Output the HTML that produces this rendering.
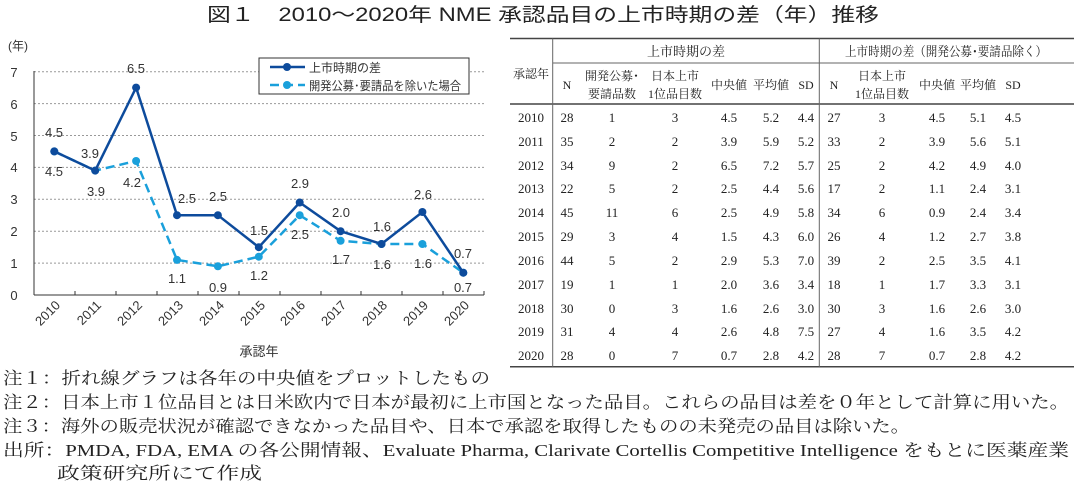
<!DOCTYPE html>
<html><head><meta charset="utf-8"><style>
html,body{margin:0;padding:0;background:#fff;}
svg{display:block;}
.s{font-family:"Liberation Sans","Noto Sans CJK JP",sans-serif;}
.m{font-family:"Liberation Serif","Noto Serif CJK SC",serif;}
</style></head><body>
<svg width="1074" height="492" viewBox="0 0 1074 492" xmlns="http://www.w3.org/2000/svg">
<text x="207" y="21" class="s" font-size="19" fill="#222" textLength="672" lengthAdjust="spacingAndGlyphs">図１　2010～2020年 NME 承認品目の上市時期の差（年）推移</text>

<g class="s" font-size="12" fill="#333">
<text x="8" y="50">(年)</text>
<g stroke="#999" stroke-dasharray="2,2" stroke-width="1">
<line x1="34" x2="484" y1="71.7" y2="71.7"/><line x1="34" x2="484" y1="103.6" y2="103.6"/>
<line x1="34" x2="484" y1="135.5" y2="135.5"/><line x1="34" x2="484" y1="167.4" y2="167.4"/>
<line x1="34" x2="484" y1="199.3" y2="199.3"/><line x1="34" x2="484" y1="231.2" y2="231.2"/>
<line x1="34" x2="484" y1="263.1" y2="263.1"/>
</g>
<line x1="34" y1="71" x2="34" y2="295" stroke="#333"/>
<line x1="34" y1="295" x2="484" y2="295" stroke="#333"/>
<g stroke="#333">
<line x1="75" x2="75" y1="291" y2="295"/><line x1="116" x2="116" y1="291" y2="295"/><line x1="157" x2="157" y1="291" y2="295"/><line x1="198" x2="198" y1="291" y2="295"/><line x1="239" x2="239" y1="291" y2="295"/><line x1="280" x2="280" y1="291" y2="295"/><line x1="321" x2="321" y1="291" y2="295"/><line x1="361" x2="361" y1="291" y2="295"/><line x1="402" x2="402" y1="291" y2="295"/><line x1="443" x2="443" y1="291" y2="295"/><line x1="484" x2="484" y1="291" y2="295"/>
</g>
<g text-anchor="middle" font-size="13">
<text x="14" y="300">0</text><text x="14" y="268">1</text><text x="14" y="236">2</text><text x="14" y="204">3</text><text x="14" y="172">4</text><text x="14" y="141">5</text><text x="14" y="109">6</text><text x="14" y="77">7</text>
</g>
<g font-size="13" text-anchor="end">
<text transform="translate(61,306) rotate(-45)">2010</text>
<text transform="translate(102,306) rotate(-45)">2011</text>
<text transform="translate(143,306) rotate(-45)">2012</text>
<text transform="translate(184,306) rotate(-45)">2013</text>
<text transform="translate(225,306) rotate(-45)">2014</text>
<text transform="translate(266,306) rotate(-45)">2015</text>
<text transform="translate(306,306) rotate(-45)">2016</text>
<text transform="translate(347,306) rotate(-45)">2017</text>
<text transform="translate(388,306) rotate(-45)">2018</text>
<text transform="translate(429,306) rotate(-45)">2019</text>
<text transform="translate(470,306) rotate(-45)">2020</text>
</g>
<text x="259" y="356" text-anchor="middle" font-size="13">承認年</text>

<polyline fill="none" stroke="#1aa0db" stroke-width="2.5" stroke-dasharray="9,5" points="54.3,151.4 95.2,170.6 136.1,161 177,259.9 217.9,266.3 258.8,256.7 299.7,215.2 340.6,240.8 381.5,244 422.4,244 463.3,272.7"/>
<g fill="#1aa0db"><circle cx="54.3" cy="151.4" r="4"/><circle cx="95.2" cy="170.6" r="4"/><circle cx="136.1" cy="161" r="4"/><circle cx="177" cy="259.9" r="4"/><circle cx="217.9" cy="266.3" r="4"/><circle cx="258.8" cy="256.7" r="4"/><circle cx="299.7" cy="215.2" r="4"/><circle cx="340.6" cy="240.8" r="4"/><circle cx="381.5" cy="244" r="4"/><circle cx="422.4" cy="244" r="4"/><circle cx="463.3" cy="272.7" r="4"/></g>
<polyline fill="none" stroke="#0d4b9c" stroke-width="2.5" points="54.3,151.4 95.2,170.6 136.1,87.6 177,215.2 217.9,215.2 258.8,247.2 299.7,202.5 340.6,231.2 381.5,244 422.4,212 463.3,272.7"/>
<g fill="#0d4b9c"><circle cx="54.3" cy="151.4" r="4"/><circle cx="95.2" cy="170.6" r="4"/><circle cx="136.1" cy="87.6" r="4"/><circle cx="177" cy="215.2" r="4"/><circle cx="217.9" cy="215.2" r="4"/><circle cx="258.8" cy="247.2" r="4"/><circle cx="299.7" cy="202.5" r="4"/><circle cx="340.6" cy="231.2" r="4"/><circle cx="381.5" cy="244" r="4"/><circle cx="422.4" cy="212" r="4"/><circle cx="463.3" cy="272.7" r="4"/></g>
<g text-anchor="middle" font-size="13" fill="#333">
<text x="54" y="137">4.5</text><text x="90" y="158">3.9</text><text x="136" y="73">6.5</text><text x="187" y="203">2.5</text><text x="218" y="201">2.5</text><text x="259" y="235">1.5</text><text x="300" y="188">2.9</text><text x="341" y="217">2.0</text><text x="382" y="231">1.6</text><text x="423" y="199">2.6</text><text x="463" y="258">0.7</text>
<text x="54" y="176">4.5</text><text x="96" y="196">3.9</text><text x="132" y="187">4.2</text><text x="177" y="283">1.1</text><text x="218" y="292">0.9</text><text x="259" y="280">1.2</text><text x="300" y="239">2.5</text><text x="341" y="264">1.7</text><text x="382" y="269">1.6</text><text x="423" y="268">1.6</text><text x="463" y="292">0.7</text>
</g>
<rect x="259" y="58" width="210" height="36" fill="#fff" stroke="#333"/>
<line x1="270" y1="67" x2="305" y2="67" stroke="#0d4b9c" stroke-width="2.5"/><circle cx="287" cy="67" r="4" fill="#0d4b9c"/>
<line x1="270" y1="85" x2="305" y2="85" stroke="#1aa0db" stroke-width="2.5" stroke-dasharray="9,5"/><circle cx="287" cy="85" r="4" fill="#1aa0db"/>
<text x="309" y="72" font-size="12">上市時期の差</text>
<text x="309" y="90" font-size="12" textLength="152" lengthAdjust="spacingAndGlyphs">開発公募･要請品を除いた場合</text>
</g>

<g class="m" font-size="13" fill="#222" text-anchor="middle">
<line x1="510" x2="1074" y1="38.5" y2="38.5" stroke="#444" stroke-width="1.5"/>
<line x1="552.7" x2="1074" y1="63" y2="63" stroke="#666"/>
<line x1="510" x2="1074" y1="104" y2="104" stroke="#444" stroke-width="1.5"/>
<line x1="510" x2="1074" y1="366.7" y2="366.7" stroke="#444" stroke-width="1.5"/>
<line x1="552.7" x2="552.7" y1="38.5" y2="366.7" stroke="#666"/>
<line x1="819.3" x2="819.3" y1="38.5" y2="366.7" stroke="#666"/>
<text x="686" y="56">上市時期の差</text>
<text x="946" y="56" textLength="202" lengthAdjust="spacingAndGlyphs">上市時期の差（開発公募･要請品除く）</text>
<g font-size="12">
<text x="531" y="78">承認年</text>
<text x="567" y="89">N</text><text x="612" y="80">開発公募･</text><text x="612" y="98">要請品数</text>
<text x="675" y="80">日本上市</text><text x="675" y="98">1位品目数</text>
<text x="729" y="89">中央値</text><text x="771" y="89">平均値</text><text x="806" y="89">SD</text>
<text x="834" y="89">N</text><text x="882" y="80">日本上市</text><text x="882" y="98">1位品目数</text>
<text x="937" y="89">中央値</text><text x="978" y="89">平均値</text><text x="1013" y="89">SD</text>
</g>
<g font-size="13">
<text y="122"><tspan x="531">2010</tspan><tspan x="567">28</tspan><tspan x="612">1</tspan><tspan x="675">3</tspan><tspan x="729">4.5</tspan><tspan x="771">5.2</tspan><tspan x="806">4.4</tspan><tspan x="834">27</tspan><tspan x="882">3</tspan><tspan x="937">4.5</tspan><tspan x="978">5.1</tspan><tspan x="1013">4.5</tspan></text>
<text y="146"><tspan x="531">2011</tspan><tspan x="567">35</tspan><tspan x="612">2</tspan><tspan x="675">2</tspan><tspan x="729">3.9</tspan><tspan x="771">5.9</tspan><tspan x="806">5.2</tspan><tspan x="834">33</tspan><tspan x="882">2</tspan><tspan x="937">3.9</tspan><tspan x="978">5.6</tspan><tspan x="1013">5.1</tspan></text>
<text y="170"><tspan x="531">2012</tspan><tspan x="567">34</tspan><tspan x="612">9</tspan><tspan x="675">2</tspan><tspan x="729">6.5</tspan><tspan x="771">7.2</tspan><tspan x="806">5.7</tspan><tspan x="834">25</tspan><tspan x="882">2</tspan><tspan x="937">4.2</tspan><tspan x="978">4.9</tspan><tspan x="1013">4.0</tspan></text>
<text y="193"><tspan x="531">2013</tspan><tspan x="567">22</tspan><tspan x="612">5</tspan><tspan x="675">2</tspan><tspan x="729">2.5</tspan><tspan x="771">4.4</tspan><tspan x="806">5.6</tspan><tspan x="834">17</tspan><tspan x="882">2</tspan><tspan x="937">1.1</tspan><tspan x="978">2.4</tspan><tspan x="1013">3.1</tspan></text>
<text y="217"><tspan x="531">2014</tspan><tspan x="567">45</tspan><tspan x="612">11</tspan><tspan x="675">6</tspan><tspan x="729">2.5</tspan><tspan x="771">4.9</tspan><tspan x="806">5.8</tspan><tspan x="834">34</tspan><tspan x="882">6</tspan><tspan x="937">0.9</tspan><tspan x="978">2.4</tspan><tspan x="1013">3.4</tspan></text>
<text y="241"><tspan x="531">2015</tspan><tspan x="567">29</tspan><tspan x="612">3</tspan><tspan x="675">4</tspan><tspan x="729">1.5</tspan><tspan x="771">4.3</tspan><tspan x="806">6.0</tspan><tspan x="834">26</tspan><tspan x="882">4</tspan><tspan x="937">1.2</tspan><tspan x="978">2.7</tspan><tspan x="1013">3.8</tspan></text>
<text y="265"><tspan x="531">2016</tspan><tspan x="567">44</tspan><tspan x="612">5</tspan><tspan x="675">2</tspan><tspan x="729">2.9</tspan><tspan x="771">5.3</tspan><tspan x="806">7.0</tspan><tspan x="834">39</tspan><tspan x="882">2</tspan><tspan x="937">2.5</tspan><tspan x="978">3.5</tspan><tspan x="1013">4.1</tspan></text>
<text y="289"><tspan x="531">2017</tspan><tspan x="567">19</tspan><tspan x="612">1</tspan><tspan x="675">1</tspan><tspan x="729">2.0</tspan><tspan x="771">3.6</tspan><tspan x="806">3.4</tspan><tspan x="834">18</tspan><tspan x="882">1</tspan><tspan x="937">1.7</tspan><tspan x="978">3.3</tspan><tspan x="1013">3.1</tspan></text>
<text y="313"><tspan x="531">2018</tspan><tspan x="567">30</tspan><tspan x="612">0</tspan><tspan x="675">3</tspan><tspan x="729">1.6</tspan><tspan x="771">2.6</tspan><tspan x="806">3.0</tspan><tspan x="834">30</tspan><tspan x="882">3</tspan><tspan x="937">1.6</tspan><tspan x="978">2.6</tspan><tspan x="1013">3.0</tspan></text>
<text y="336"><tspan x="531">2019</tspan><tspan x="567">31</tspan><tspan x="612">4</tspan><tspan x="675">4</tspan><tspan x="729">2.6</tspan><tspan x="771">4.8</tspan><tspan x="806">7.5</tspan><tspan x="834">27</tspan><tspan x="882">4</tspan><tspan x="937">1.6</tspan><tspan x="978">3.5</tspan><tspan x="1013">4.2</tspan></text>
<text y="360"><tspan x="531">2020</tspan><tspan x="567">28</tspan><tspan x="612">0</tspan><tspan x="675">7</tspan><tspan x="729">0.7</tspan><tspan x="771">2.8</tspan><tspan x="806">4.2</tspan><tspan x="834">28</tspan><tspan x="882">7</tspan><tspan x="937">0.7</tspan><tspan x="978">2.8</tspan><tspan x="1013">4.2</tspan></text>
</g>
</g>

<g class="m" font-size="17" fill="#222">
<text x="3" y="384" textLength="487" lengthAdjust="spacingAndGlyphs">注１：折れ線グラフは各年の中央値をプロットしたもの</text>
<text x="3" y="408" textLength="1066" lengthAdjust="spacingAndGlyphs">注２：日本上市１位品目とは日米欧内で日本が最初に上市国となった品目。これらの品目は差を０年として計算に用いた。</text>
<text x="3" y="432" textLength="907" lengthAdjust="spacingAndGlyphs">注３：海外の販売状況が確認できなかった品目や、日本で承認を取得したものの未発売の品目は除いた。</text>
<text x="3" y="456" textLength="1066" lengthAdjust="spacingAndGlyphs">出所：PMDA, FDA, EMA の各公開情報、Evaluate Pharma, Clarivate Cortellis Competitive Intelligence をもとに医薬産業</text>
<text x="57" y="479" textLength="205" lengthAdjust="spacingAndGlyphs">政策研究所にて作成</text>
</g>
</svg>
</body></html>
